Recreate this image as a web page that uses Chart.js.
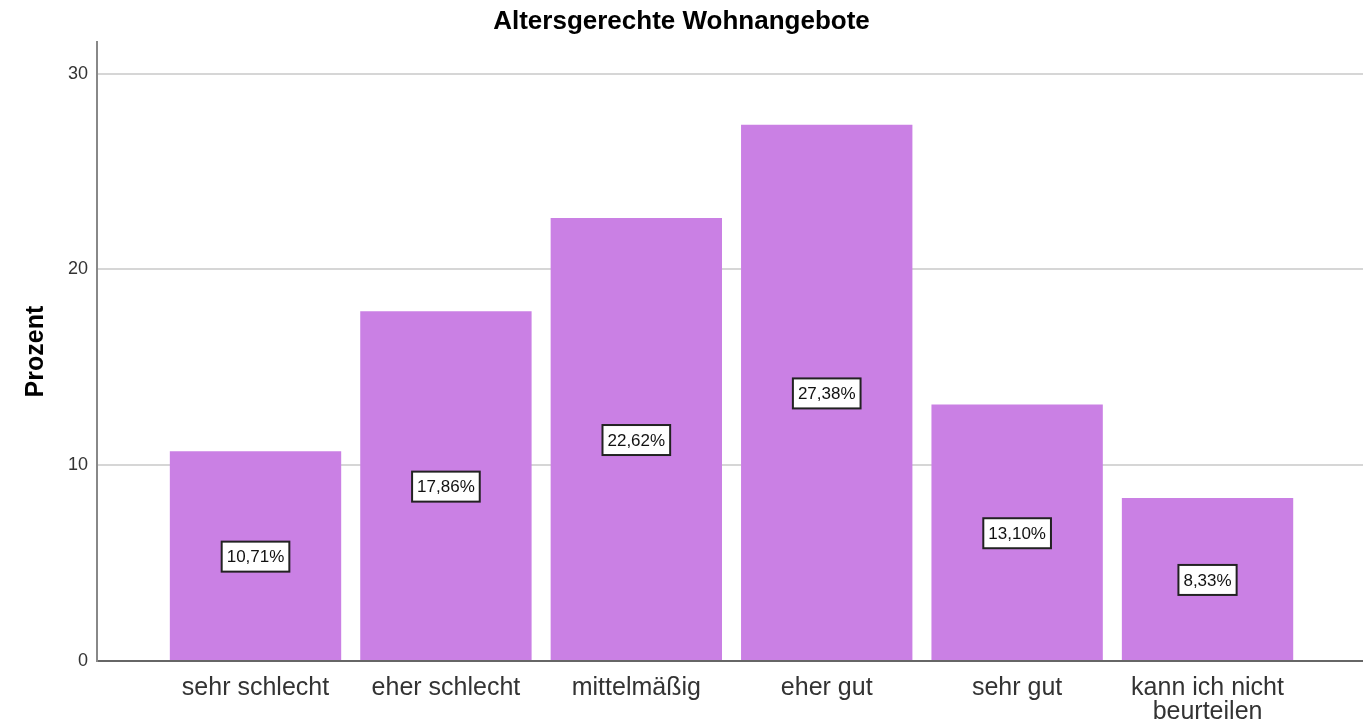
<!DOCTYPE html>
<html>
<head>
<meta charset="utf-8">
<script src="https://cdn.jsdelivr.net/npm/chart.js@4/dist/chart.umd.min.js"></script>
<style>
  body { margin: 0; background: #fff; }
  canvas { display: block; }
</style>
</head>
<body>
<canvas id="myChart" width="1363" height="724"></canvas>
<script>
const categories = ['sehr schlecht', 'eher schlecht', 'mittelmäßig', 'eher gut', 'sehr gut', ['kann ich nicht', 'beurteilen']];
const percent = [10.71, 17.86, 22.62, 27.38, 13.10, 8.33];
const yTicks = [0, 10, 20, 30];

const font = "'Liberation Sans', Arial, sans-serif";

// white boxes with the value in the middle of each bar
const valueBoxes = {
  id: 'valueBoxes',
  afterDatasetsDraw(chart) {
    const c = chart.ctx;
    const meta = chart.getDatasetMeta(0);
    c.save();
    c.font = '17px ' + font;
    c.textAlign = 'center';
    c.textBaseline = 'middle';
    meta.data.forEach(function (bar, i) {
      const txt = percent[i].toFixed(2).replace('.', ',') + '%';
      const w = c.measureText(txt).width + 10;
      const h = 30;
      const cx = bar.x;
      const cy = (bar.y + bar.base) / 2 + 1;
      c.fillStyle = '#fff';
      c.fillRect(cx - w / 2, cy - h / 2, w, h);
      c.strokeStyle = '#222';
      c.lineWidth = 2;
      c.strokeRect(cx - w / 2, cy - h / 2, w, h);
      c.fillStyle = '#111';
      c.fillText(txt, cx, cy + 1);
    });
    c.restore();
  }
};

const ctx = document.getElementById('myChart').getContext('2d');
const myChart = new Chart(ctx, {
  type: 'bar',
  data: {
    datasets: [{
      data: percent.map((v, i) => ({ x: i, y: v })),
      backgroundColor: '#ca80e4',
      borderWidth: 0,
      barPercentage: 0.9,
      categoryPercentage: 1.0,
    }],
  },
  options: {
    responsive: false,
    animation: false,
    layout: { padding: 0 },
    plugins: {
      legend: { display: false },
      tooltip: { enabled: false },
      title: {
        display: true,
        text: 'Altersgerechte Wohnangebote',
        color: '#000',
        font: { family: font, size: 26, weight: 'bold' },
        padding: { top: 6, bottom: 5 },
      },
    },
    scales: {
      x: {
        type: 'linear',
        offset: false,
        min: -0.8325,
        max: 5.8165,
        afterBuildTicks(scale) {
          scale.ticks = categories.map((_, i) => ({ value: i }));
        },
        afterFit(scale) { scale.height = 63; },
        grid: { display: false, drawTicks: false, offset: false },
        border: { display: true, color: '#666', width: 2 },
        ticks: {
          padding: 15,
          color: '#333',
          maxRotation: 0,
          autoSkip: false,
          font: { family: font, size: 25, lineHeight: 0.96 },
          callback: (v) => categories[v],
        },
      },
      y: {
        min: 0,
        max: 31.6,
        afterBuildTicks(scale) {
          scale.ticks = yTicks.map((v) => ({ value: v }));
        },
        afterFit(scale) { scale.width = 97; },
        grid: { color: '#d6d6d6', lineWidth: 2, drawTicks: false },
        border: { display: true, color: '#888', width: 2 },
        ticks: {
          padding: 9,
          color: '#333',
          font: { family: font, size: 18 },
        },
        title: {
          display: true,
          text: 'Prozent',
          color: '#000',
          font: { family: font, size: 25, weight: 'bold' },
          padding: { top: 21, bottom: 0 },
        },
      },
    },
  },
  plugins: [valueBoxes],
});
</script>
</body>
</html>
